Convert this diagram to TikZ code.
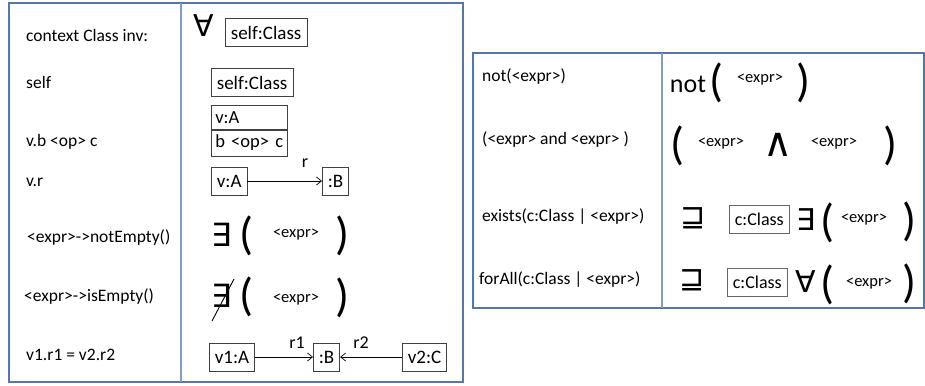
\documentclass[tikz,border=0pt]{standalone}
\usepackage{fontspec}
\setmainfont{Carlito}
\newfontfamily\symfont{DejaVu Sans}
\usetikzlibrary{arrows.meta,positioning}
\definecolor{PanelBlue}{HTML}{5577A8}
\definecolor{RuleBlue}{HTML}{7F9CC6}
\definecolor{BoxGray}{HTML}{404040}

\begin{document}
\begin{tikzpicture}[x=1pt,y=-1pt,
  panel/.style={draw=PanelBlue,line width=1.6pt},
  colrule/.style={draw=RuleBlue,line width=1.4pt},
  rowlabel/.style={anchor=west,inner sep=0pt,font=\fontsize{17.5}{19}\selectfont},
  objbox/.style={draw=BoxGray,line width=0.7pt,inner xsep=5.5pt,inner ysep=0pt,
    minimum height=28pt,font=\fontsize{19}{21}\selectfont},
  compart/.style={objbox,inner xsep=4pt,text width=68pt,align=left,
    font=\fontsize{18.5}{20}\selectfont},
  exprtxt/.style={inner sep=0pt,font=\fontsize{16.5}{18}\selectfont},
  bigsym/.style={inner sep=0pt,font=\symfont\fontsize{32}{34}\selectfont},
  paren/.style={inner sep=0pt,font=\fontsize{46}{48}\selectfont},
  link/.style={line width=0.7pt,-{Straight Barb[length=5pt,width=8pt]}},
  every node/.style={text=black}]
\useasboundingbox (0,0) rectangle (925,385);

% left panel: navigation expressions
\draw[panel] (9,3) rectangle (463,382);
\draw[colrule] (181,3) -- (181,382);

\node[rowlabel] (lctx) at (26,35) {context Class inv:};
\node[rowlabel] (lself) at (26,82) {self};
\node[rowlabel] (lattr) at (26,142) {v.b <op> c};
\node[rowlabel] (lref) at (26,182) {v.r};
\node[rowlabel] (lnotempty) at (27,238) {<expr>->notEmpty()};
\node[rowlabel] (lisempty) at (24,297) {<expr>->isEmpty()};
\node[rowlabel] (leq) at (26,355) {v1.r1 = v2.r2};

% context
\node[bigsym,font=\symfont\fontsize{30}{32}\selectfont] (ctxall) at (204,26) {∀};
\node[objbox,anchor=west] (ctxobj) at (225,32.5) {self:Class};

% self
\node[objbox,anchor=west] (selfobj) at (211,82.5) {self:Class};

% attribute compartment
\node[compart,anchor=north west,minimum height=24pt] (vahead) at (211,105) {v:A};
\node[compart,anchor=north,minimum height=26pt] (vaattr) at (vahead.south) {b <op> c};

% reference
\node[objbox,anchor=west] (refsrc) at (211,181) {v:A};
\node[objbox,anchor=west] (reftgt) at (322,181) {:B};
\draw[link] (refsrc) -- (reftgt);
\node[exprtxt,font=\fontsize{18}{20}\selectfont] (refname) at (305,163) {r};

% notEmpty
\node[bigsym] (nexists) at (222,235) {∃};
\node[paren] (nopen) at (246,236) {(};
\node[exprtxt] (nexpr) at (296,235) {<expr>};
\node[paren] (nclose) at (342,236) {)};

% isEmpty
\node[bigsym] (iexists) at (222,296) {∃};
\draw[line width=0.9pt] (212,321) -- (234,279);
\node[paren] (iopen) at (246,297) {(};
\node[exprtxt] (iexpr) at (296,300) {<expr>};
\node[paren] (iclose) at (342,298) {)};

% equal navigation
\node[objbox,anchor=west] (eqleft) at (209,357) {v1:A};
\node[objbox,anchor=west] (eqmid) at (313,357) {:B};
\node[objbox,anchor=west] (eqright) at (402,357) {v2:C};
\draw[link] (eqleft) -- (eqmid);
\draw[link] (eqright) -- (eqmid);
\node[exprtxt,font=\fontsize{18}{20}\selectfont] (rone) at (297,343) {r1};
\node[exprtxt,font=\fontsize{18}{20}\selectfont] (rtwo) at (361,343) {r2};

% right panel: boolean and quantifier expressions
\draw[panel] (473,53) rectangle (924,308);
\draw[colrule] (662,53) -- (662,308);

\node[rowlabel] (lnot) at (482,77) {not(<expr>)};
\node[rowlabel] (land) at (482,140) {(<expr> and <expr> )};
\node[rowlabel] (lexists) at (482,217) {exists(c:Class | <expr>)};
\node[rowlabel] (lforall) at (479,280) {forAll(c:Class | <expr>)};

% not
\node[inner sep=0pt,font=\fontsize{26}{28}\selectfont] (notword) at (688,84) {not};
\node[paren] (notopen) at (716,83) {(};
\node[exprtxt] (notexpr) at (760,80) {<expr>};
\node[paren] (notclose) at (803,83) {)};

% and
\node[paren] (andopen) at (677,146) {(};
\node[exprtxt] (andleft) at (721,144) {<expr>};
\node[bigsym,font=\symfont\fontsize{40}{42}\selectfont] (andsym) at (778,145) {∧};
\node[exprtxt] (andright) at (834,144) {<expr>};
\node[paren] (andclose) at (890,146) {)};

% exists
\node[bigsym,font=\symfont\fontsize{30}{32}\selectfont] (exsub) at (693,218) {⊒};
\node[objbox,draw=BoxGray!80,anchor=west,font=\fontsize{18}{20}\selectfont] (exobj) at (729,219) {c:Class};
\node[bigsym,font=\symfont\fontsize{30}{32}\selectfont] (exsym) at (806,220) {∃};
\node[paren] (exopen) at (827,223) {(};
\node[exprtxt] (exexpr) at (864,220) {<expr>};
\node[paren] (exclose) at (909,222) {)};

% forAll
\node[bigsym,font=\symfont\fontsize{30}{32}\selectfont] (fasub) at (692,280) {⊒};
\node[objbox,draw=BoxGray!80,anchor=west,font=\fontsize{18}{20}\selectfont] (faobj) at (727,282) {c:Class};
\node[bigsym,font=\symfont\fontsize{30}{32}\selectfont] (fasym) at (806,282) {∀};
\node[paren] (faopen) at (827,285) {(};
\node[exprtxt] (faexpr) at (869,284) {<expr>};
\node[paren] (faclose) at (909,284) {)};
\end{tikzpicture}
\end{document}
